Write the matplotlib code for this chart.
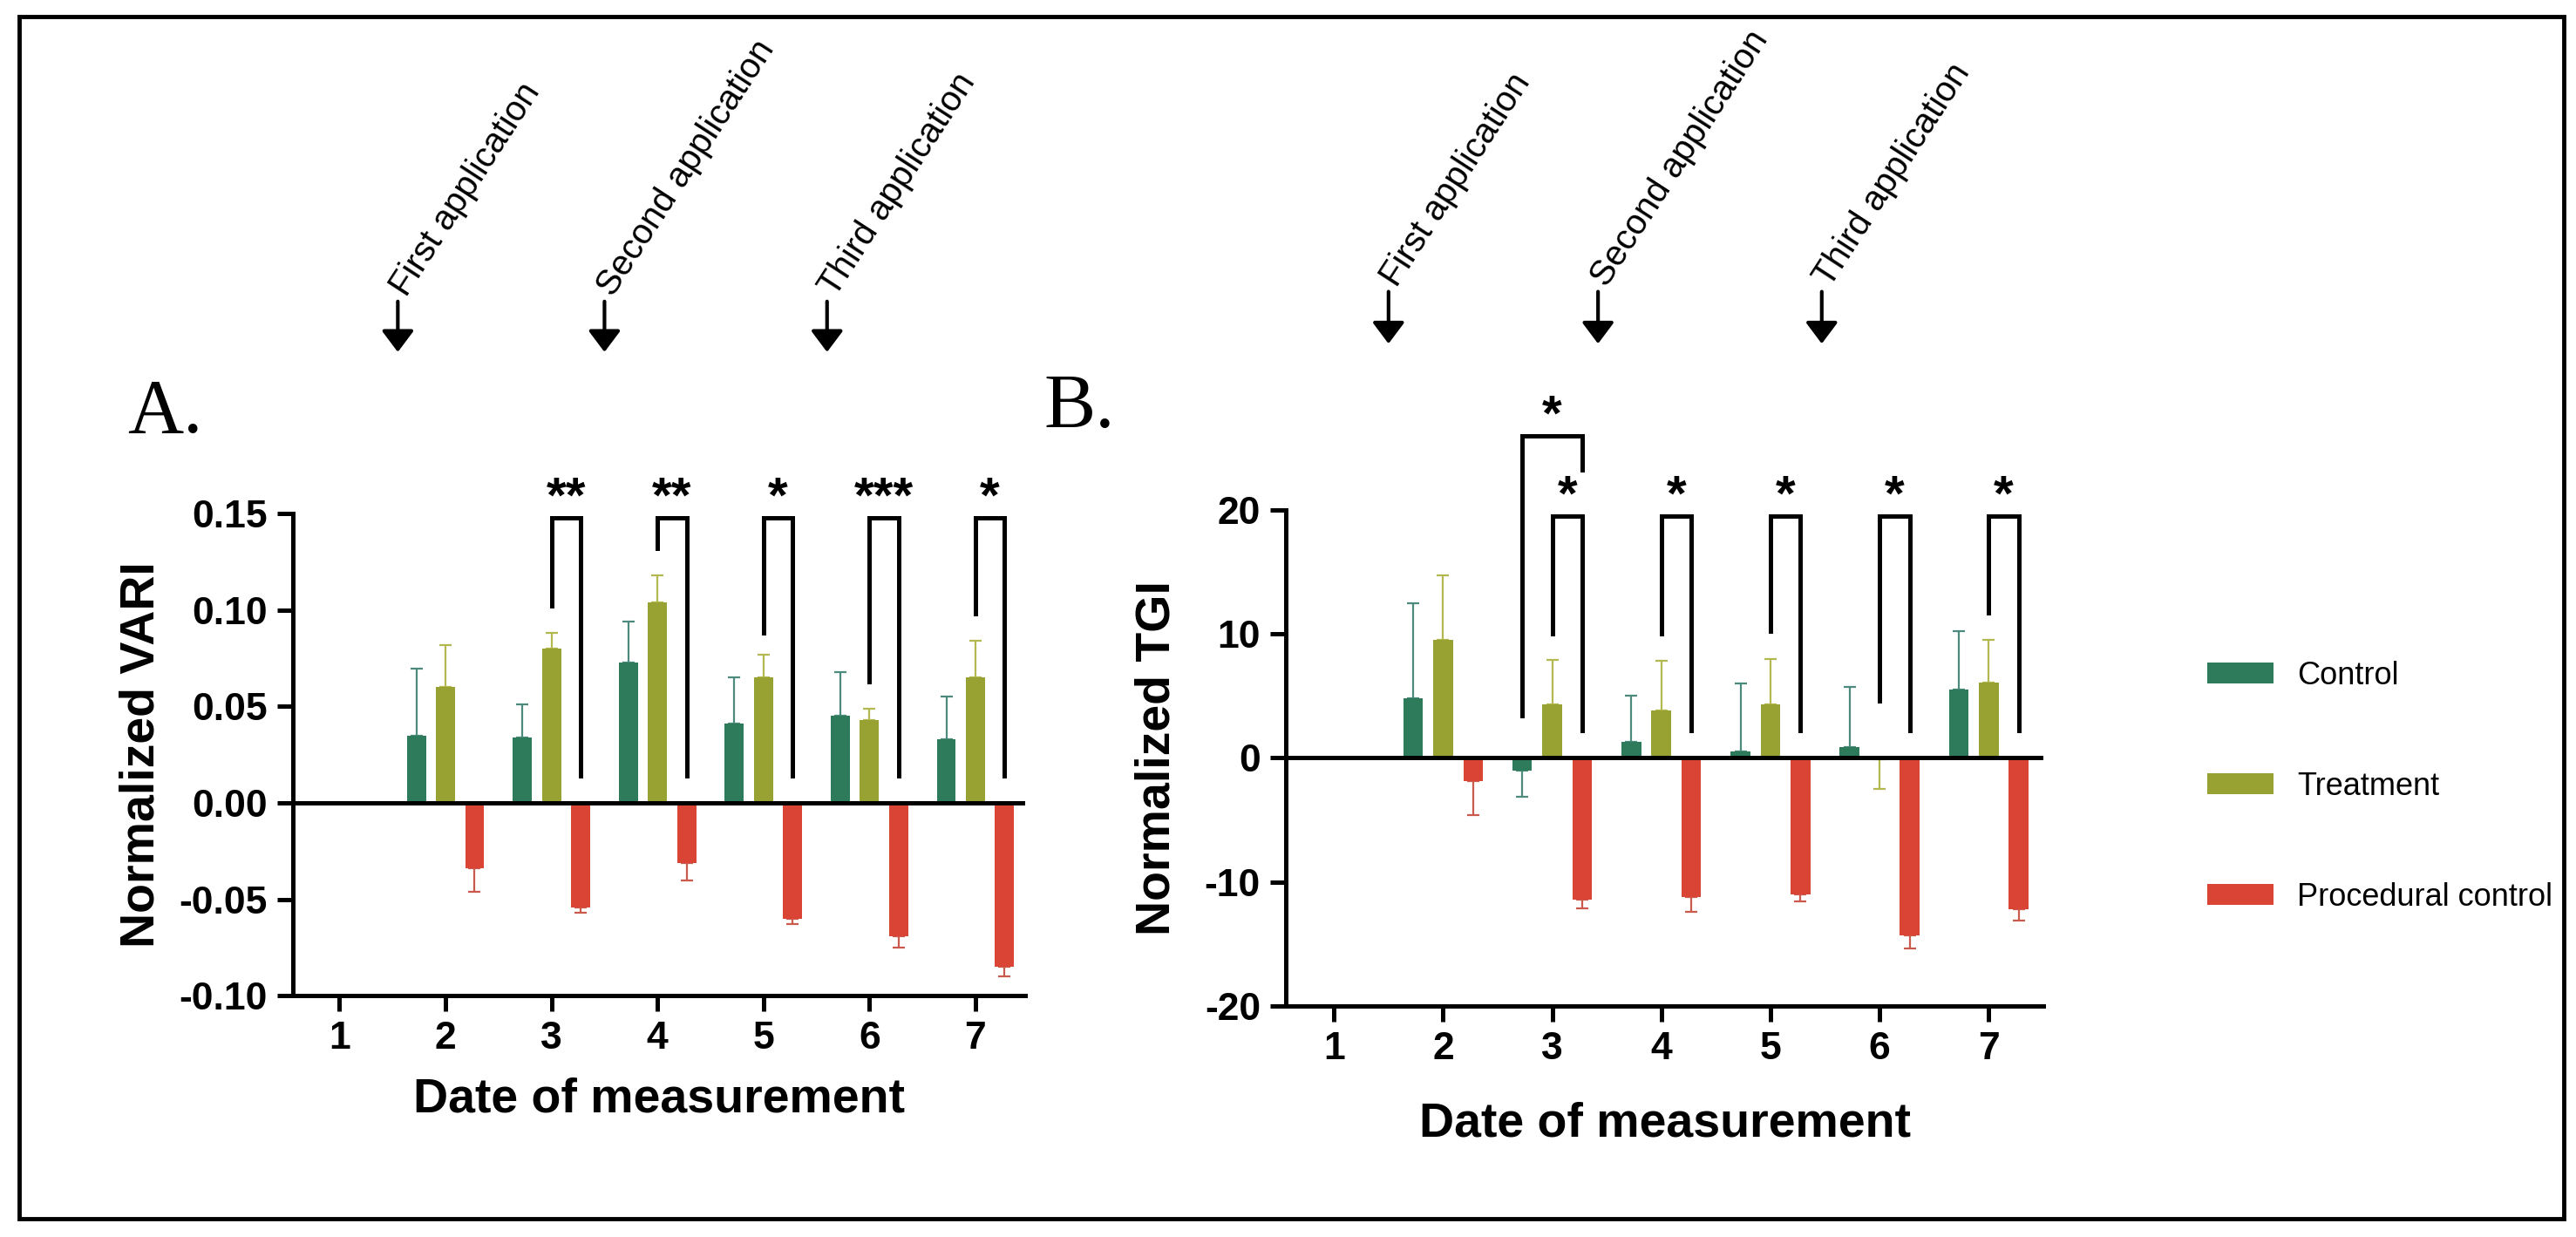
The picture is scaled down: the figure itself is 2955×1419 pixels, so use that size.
import numpy as np
import matplotlib
matplotlib.use("Agg")
import matplotlib.pyplot as plt
from matplotlib.patches import Rectangle

plt.rcParams['font.family'] = ['Liberation Sans', 'DejaVu Sans']
plt.rcParams['axes.unicode_minus'] = False

# x categories and groups
dates = [1, 2, 3, 4, 5, 6, 7]
groups = ["Control", "Treatment", "Procedural control"]

# Panel A: normalized VARI (mean, error drawn away from zero)
vari_control = [0, 0.035, 0.034, 0.073, 0.041, 0.045, 0.033]
vari_control_err = [0, 0.0345, 0.017, 0.021, 0.024, 0.023, 0.022]
vari_treatment = [0, 0.060, 0.080, 0.104, 0.065, 0.043, 0.065]
vari_treatment_err = [0, 0.022, 0.008, 0.014, 0.012, 0.006, 0.019]
vari_procedural = [0, -0.034, -0.054, -0.031, -0.060, -0.069, -0.085]
vari_procedural_err = [0, 0.012, 0.003, 0.009, 0.003, 0.006, 0.005]

# Panel B: normalized TGI
tgi_control = [0, 4.8, -1.0, 1.3, 0.5, 0.9, 5.5]
tgi_control_err = [0, 7.7, 2.1, 3.7, 5.5, 4.8, 4.7]
tgi_treatment = [0, 9.5, 4.3, 3.8, 4.3, -0.1, 6.1]
tgi_treatment_err = [0, 5.2, 3.6, 4.0, 3.7, 2.4, 3.4]
tgi_procedural = [0, -1.9, -11.4, -11.2, -11.0, -14.3, -12.2]
tgi_procedural_err = [0, 2.7, 0.7, 1.2, 0.6, 1.1, 0.9]

# significance brackets: date, left group, right group, left leg end, top, right leg end, label
vari_brackets = [
    (3, 1, 2, 0.102, 0.148, 0.014, "**"),
    (4, 1, 2, 0.132, 0.148, 0.014, "**"),
    (5, 1, 2, 0.088, 0.148, 0.014, "*"),
    (6, 1, 2, 0.063, 0.148, 0.014, "***"),
    (7, 1, 2, 0.098, 0.148, 0.014, "*"),
]
tgi_brackets = [
    (3, 0, 2, 3.4, 26.0, 23.2, "*"),
    (3, 1, 2, 10.0, 19.5, 2.2, "*"),
    (4, 1, 2, 10.0, 19.5, 2.2, "*"),
    (5, 1, 2, 10.2, 19.5, 2.2, "*"),
    (6, 1, 2, 4.6, 19.5, 2.2, "*"),
    (7, 1, 2, 11.7, 19.5, 2.2, "*"),
]

# application events (x position on the date axis)
applications = ["First application", "Second application", "Third application"]
vari_app_x = [1.55, 3.5, 5.6]
tgi_app_x = [1.5, 3.42, 5.47]

COLORS = ['#2e7b5b', '#98a232', '#d94434']
ERR_COLORS = ['#4b8a7c', '#b4b851', '#c95a4c']
BAR_W = 0.18
BAR_STEP = 0.275
LW = 3.6


def draw_panel(ax, means, errs, ylim, yticks, fmt, ylabel, brackets, app_x, xmax):
    x = np.array(dates, dtype=float)
    offsets = [-BAR_STEP, 0, BAR_STEP]
    bars = []
    for i in range(3):
        m = np.array(means[i], dtype=float)
        e = np.array(errs[i], dtype=float)
        lower = np.where(m < 0, e, 0)
        upper = np.where(m >= 0, e, 0)
        b = ax.bar(x + offsets[i], m, BAR_W, color=COLORS[i], zorder=3,
                   yerr=[lower, upper],
                   error_kw=dict(ecolor=ERR_COLORS[i], elinewidth=1.6,
                                 capsize=5, capthick=1.6, zorder=2))
        bars.append(b)

    ax.axhline(0, color='black', lw=LW, zorder=4)
    ax.set_xlim(0.56, xmax)
    ax.set_ylim(*ylim)
    ax.set_yticks(yticks)
    ax.set_yticklabels([fmt.format(v) for v in yticks])
    ax.set_xticks(dates)
    ax.set_xticklabels([str(d) for d in dates])
    for s in ['top', 'right']:
        ax.spines[s].set_visible(False)
    for s in ['left', 'bottom']:
        ax.spines[s].set_linewidth(LW)
    ax.tick_params(width=LW, length=13, labelsize=32, pad=8)
    for lab in ax.get_xticklabels() + ax.get_yticklabels():
        lab.set_fontweight('bold')
    ax.set_ylabel(ylabel, fontsize=40, fontweight='bold')
    ax.set_xlabel("Date of measurement", fontsize=40, fontweight='bold')

    # brackets with stars
    for d, g1, g2, y1, top, y2, label in brackets:
        xl = d + offsets[g1]
        xr = d + offsets[g2]
        ax.plot([xl, xl, xr, xr], [y1, top, top, y2], color='black', lw=LW,
                clip_on=False, solid_joinstyle='miter', zorder=5)
        ax.annotate(label, xy=((xl + xr) / 2, top), xytext=(0, -4),
                    textcoords='offset points', ha='center', va='bottom',
                    fontsize=42, fontweight='bold', annotation_clip=False)

    # application arrows
    for name, ax_x in zip(applications, app_x):
        ax.annotate('', xy=(ax_x, 1.335), xytext=(ax_x, 1.44),
                    xycoords=('data', 'axes fraction'),
                    textcoords=('data', 'axes fraction'),
                    arrowprops=dict(arrowstyle='-|>,head_length=0.6,head_width=0.45',
                                    lw=3, color='black', mutation_scale=25,
                                    shrinkA=0, shrinkB=0),
                    annotation_clip=False)
        ax.annotate(name, xy=(ax_x, 1.44), xycoords=('data', 'axes fraction'),
                    xytext=(12, 0), textcoords='offset points',
                    rotation=57, rotation_mode='anchor', ha='left', va='bottom',
                    fontsize=29, annotation_clip=False)
    return bars


fig = plt.figure(figsize=(29.55, 14.19), dpi=100)

ax_a = fig.add_axes([0.1137, 0.1950, 0.2843, 0.3898])
ax_b = fig.add_axes([0.4992, 0.1868, 0.2940, 0.4010])

bars = draw_panel(ax_a,
                  [vari_control, vari_treatment, vari_procedural],
                  [vari_control_err, vari_treatment_err, vari_procedural_err],
                  (-0.10, 0.15), [-0.10, -0.05, 0.00, 0.05, 0.10, 0.15], '{:.2f}',
                  "Normalized VARI", vari_brackets, vari_app_x, 7.47)
draw_panel(ax_b,
           [tgi_control, tgi_treatment, tgi_procedural],
           [tgi_control_err, tgi_treatment_err, tgi_procedural_err],
           (-20, 20), [-20, -10, 0, 10, 20], '{:.0f}',
           "Normalized TGI", tgi_brackets, tgi_app_x, 7.5)

ax_a.yaxis.set_label_coords(-0.175, 0.5)
ax_b.yaxis.set_label_coords(-0.14, 0.5)
ax_a.xaxis.set_label_coords(0.5, -0.168)
ax_b.xaxis.set_label_coords(0.5, -0.193)

# panel letters
fig.text(146 / 2955, 1 - 496 / 1419, "A.", family=['Liberation Serif', 'DejaVu Serif'],
         fontsize=64, va='baseline', ha='left')
fig.text(1197 / 2955, 1 - 490 / 1419, "B.", family=['Liberation Serif', 'DejaVu Serif'],
         fontsize=64, va='baseline', ha='left')

fig.legend(handles=bars, labels=groups, loc='upper left',
           bbox_to_anchor=(0.857, 0.466), frameon=False,
           fontsize=26, handlelength=2.1, handleheight=0.65, labelspacing=2.55,
           handletextpad=0.75, borderpad=0, borderaxespad=0)

# outer frame
fig.patches.append(Rectangle((22 / 2955, 21 / 1419), 2919 / 2955, 1379 / 1419,
                             transform=fig.transFigure, fill=False,
                             edgecolor='black', lw=3.5))

fig.savefig("out.png", dpi=100)
